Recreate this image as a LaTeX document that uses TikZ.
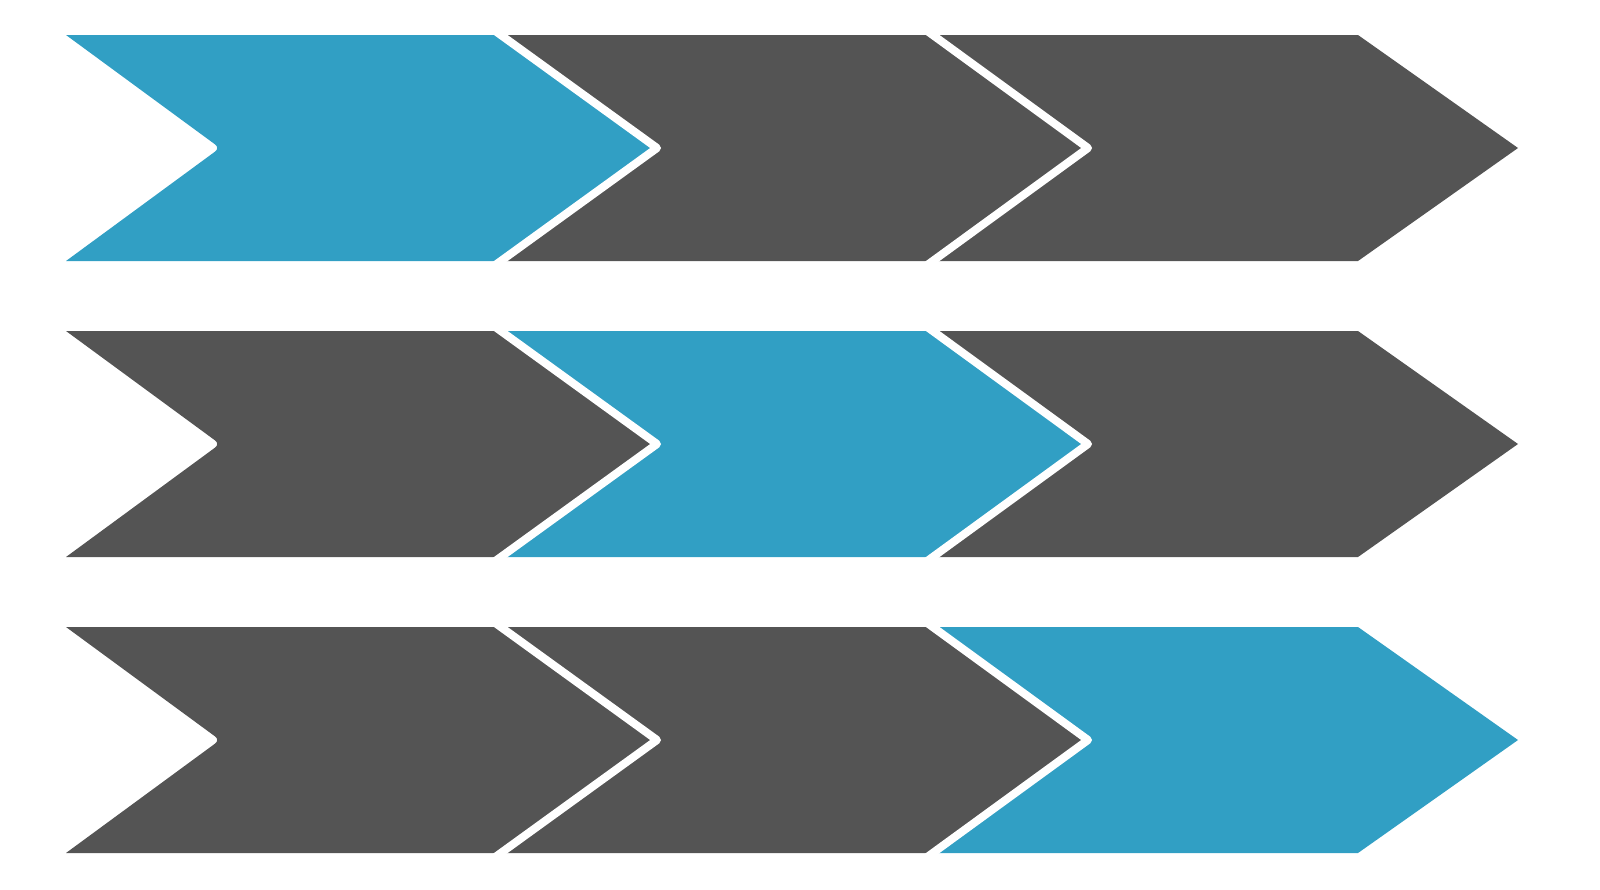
\documentclass[tikz,border=0pt]{standalone}
\usepackage{tikz}

\definecolor{chevblue}{HTML}{319FC4}
\definecolor{chevgrey}{HTML}{545454}

\tikzset{
  gapline/.style={draw=white, line width=4pt, line join=round}
}

\begin{document}
\begin{tikzpicture}[x=0.5pt,y=-0.5pt]
        \useasboundingbox (0,0) rectangle (1600,889);

        % Three rows: top edge / colour of each chevron
        \foreach \top/\ca/\cb/\cc in {35/chevblue/chevgrey/chevgrey,
                                    331/chevgrey/chevblue/chevgrey,
                                    627/chevgrey/chevgrey/chevblue} {
          \pgfmathsetmacro\mid{\top+113}
          \pgfmathsetmacro\bot{\top+226}

          % Chevrons
          \fill[\ca] (66,\top) -- (501,\top) -- (657,\mid) -- (501,\bot) -- (66,\bot)
                [rounded corners=3pt] -- (220,\mid) [sharp corners] -- cycle;
          \fill[\cb] (501,\top) -- (933,\top) -- (1088,\mid) -- (933,\bot) -- (501,\bot) -- (657,\mid) -- cycle;
          \fill[\cc] (933,\top) -- (1358,\top) -- (1518,\mid) -- (1358,\bot) -- (933,\bot) -- (1088,\mid) -- cycle;

          % White gaps, cut flush at the row edges
          \begin{scope}
            \clip (0,\top) rectangle (1600,\bot);
            \draw[gapline] (487,\top-10) -- (657,\mid) -- (487,\bot+10);
            \draw[gapline] (919,\top-10) -- (1088,\mid) -- (919,\bot+10);
          \end{scope}
        }
\end{tikzpicture}
\end{document}
